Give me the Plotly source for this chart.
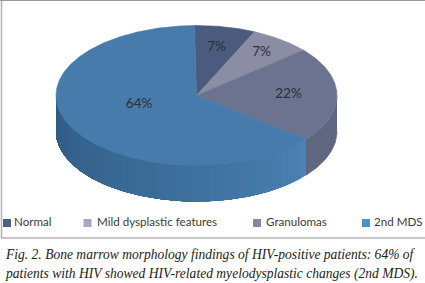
import math
import plotly.graph_objects as go

categories = ["Normal", "Mild dysplastic features", "Granulomas", "2nd MDS"]
values = [7, 7, 22, 64]
caption_lines = [
    "Fig. 2. Bone marrow morphology findings of HIV-positive patients: 64% of",
    "patients with HIV showed HIV-related myelodysplastic changes (2nd MDS).",
]
top_colors = ["#4a5b7e", "#8a8da3", "#6b7390", "#477bab"]
swatch_colors = ["#4d5f8a", "#a5a8c0", "#8188a8", "#4f90c8"]
swatch_x = [7, 87.5, 257, 366]
legend_text_x = [14, 97, 266, 374]

CX, CY, RX, RY, DEPTH = 196.5, 95.5, 140.5, 70, 36
START = -0.8
label_r = [0.70, 0.77, 0.655, 0.43]
label_shift = [0, 0, 0, 8]


def pt(deg, dy=0):
    a = math.radians(deg)
    return CX + RX * math.sin(a), CY - RY * math.cos(a) + dy


def arc(a0, a1, dy=0):
    n = max(2, int(abs(a1 - a0) * 1.5))
    return [pt(a0 + (a1 - a0) * i / n, dy) for i in range(n + 1)]


def mix(c0, c1, t):
    return "rgb(%d,%d,%d)" % tuple(c0[i] + (c1[i] - c0[i]) * t for i in range(3))


bounds = [START]
for v in values:
    bounds.append(bounds[-1] + v * 3.6)

fig = go.Figure()


def poly(points, color, name=None, lw=0.6):
    fig.add_trace(go.Scatter(
        x=[p[0] for p in points], y=[p[1] for p in points], mode="lines",
        fill="toself", fillcolor=color, line=dict(color=color, width=lw),
        showlegend=False, hoverinfo="skip" if name is None else "text",
        text=name,
    ))


# side wall of Granulomas
a0, a1 = 90, bounds[3]
poly(arc(a0, a1) + arc(a1, a0, DEPTH), "#5f6680")
# side wall of 2nd MDS, in shaded strips that overlap to avoid seams
strip_a0, strip_a1 = bounds[3], 270
N = 40
for i in range(N):
    s0 = strip_a0 + (strip_a1 - strip_a0) * i / N
    t = i / (N - 1)
    color = mix((0x4c, 0x82, 0xb4), (0x2f, 0x5c, 0x84), t ** 0.8)
    poly(arc(s0, strip_a1) + arc(strip_a1, s0, DEPTH), color, lw=0)

# top faces
for i, cat in enumerate(categories):
    poly([(CX, CY)] + arc(bounds[i], bounds[i + 1]) + [(CX, CY)], top_colors[i], f"{cat}: {values[i]}%")

# percentage labels
lx, ly, lt = [], [], []
for i, v in enumerate(values):
    mid = (bounds[i] + bounds[i + 1]) / 2 + label_shift[i]
    a = math.radians(mid)
    lx.append(CX + RX * label_r[i] * math.sin(a))
    ly.append(CY - RY * label_r[i] * math.cos(a))
    lt.append(f"{v}%")
fig.add_trace(go.Scatter(x=lx, y=ly, text=lt, mode="text", showlegend=False, hoverinfo="skip",
                         textfont=dict(family="Lato", size=13.5, color="#2b2f3a")))

# legend row
for i, cat in enumerate(categories):
    fig.add_trace(go.Scatter(
        x=[swatch_x[i]], y=[223], mode="markers",
        marker=dict(symbol="square", size=8, color=swatch_colors[i]),
        showlegend=False, hoverinfo="skip",
    ))
    fig.add_trace(go.Scatter(
        x=[legend_text_x[i]], y=[223], text=[cat], mode="text", textposition="middle right",
        textfont=dict(family="Lato", size=11.6, color="#3a3a3a"),
        showlegend=False, hoverinfo="skip",
    ))

shapes = [
    dict(type="line", x0=1.5, x1=1.5, y0=0, y1=238, line=dict(color="#b0b0b0", width=1.5)),
    dict(type="line", x0=0, x1=425, y0=0.5, y1=0.5, line=dict(color="#9a9a9a", width=1)),
    dict(type="line", x0=1, x1=425, y0=238, y1=238, line=dict(color="#8f8f8f", width=1)),
]
annotations = [
    dict(x=3, y=y, text=t, xref="x", yref="y", xanchor="left", yanchor="middle", showarrow=False,
         font=dict(family="Liberation Serif", size=13.55, color="#222222"))
    for t, y in zip([f"<i>{c}</i>" for c in caption_lines], [254, 273.5])
]

fig.update_layout(
    width=425, height=283, margin=dict(l=0, r=0, t=0, b=0),
    paper_bgcolor="white", plot_bgcolor="white", showlegend=False,
    xaxis=dict(range=[0, 425], visible=False, fixedrange=True),
    yaxis=dict(range=[283, 0], visible=False, fixedrange=True),
    shapes=shapes, annotations=annotations,
)
fig.write_html("out.html", config={"displayModeBar": False},
               post_script="document.body.style.margin='0';document.body.style.overflow='hidden';")
